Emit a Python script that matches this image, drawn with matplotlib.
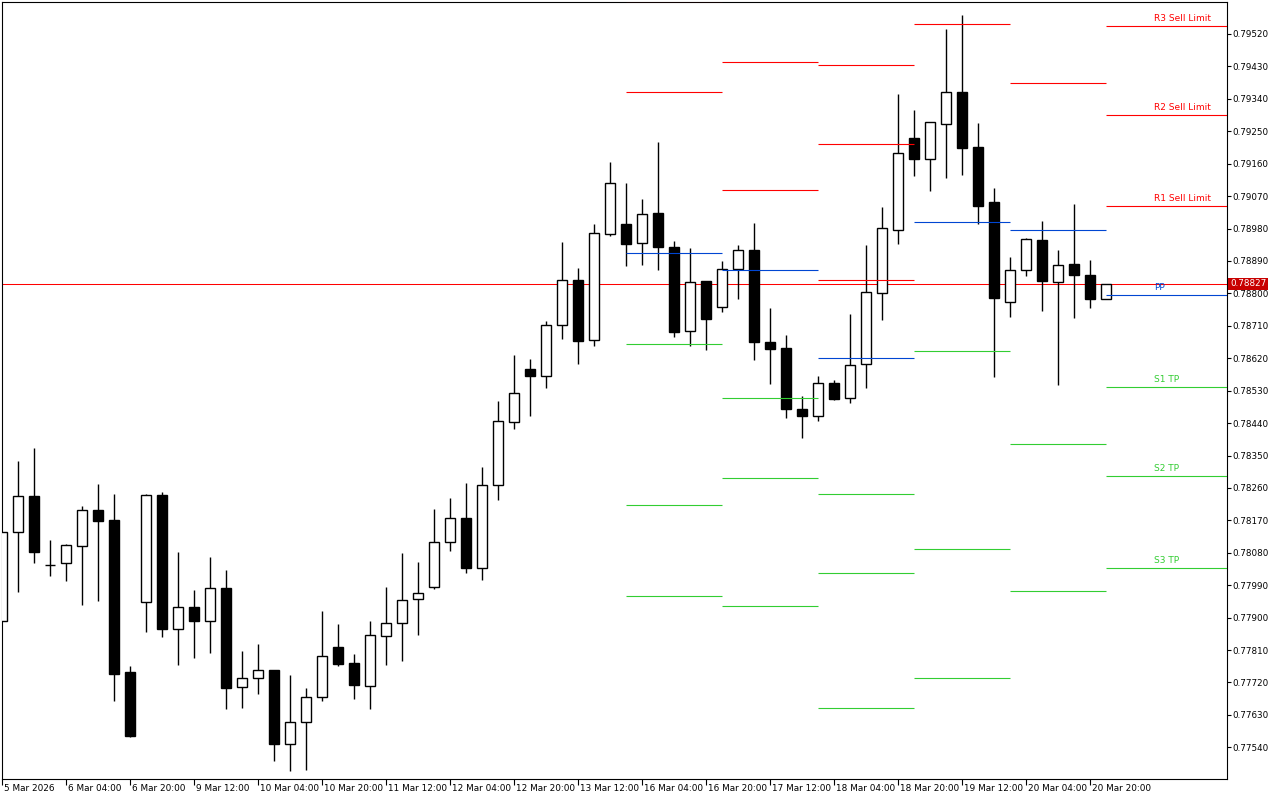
import matplotlib
matplotlib.use("Agg")
import matplotlib.pyplot as plt
import matplotlib.transforms as mtransforms

# ---------------- data (4H candles) ----------------
opens = [0.77890, 0.78137, 0.78238, 0.78047, 0.78051, 0.78098, 0.78198, 0.78171, 0.77749, 0.77944,
         0.78240, 0.77869, 0.77929, 0.77891, 0.77981, 0.77708, 0.77732, 0.77754, 0.77548, 0.77609,
         0.77679, 0.77818, 0.77773, 0.77711, 0.77850, 0.77884, 0.77951, 0.77984, 0.78109, 0.78176,
         0.78039, 0.78267, 0.78442, 0.78589, 0.78570, 0.78711, 0.78836, 0.78670, 0.78964, 0.78992,
         0.78939, 0.79022, 0.78928, 0.78695, 0.78834, 0.78761, 0.78867, 0.78920, 0.78664, 0.78648,
         0.78478, 0.78459, 0.78550, 0.78509, 0.78603, 0.78800, 0.78975, 0.79231, 0.79174, 0.79269,
         0.79359, 0.79206, 0.79054, 0.78775, 0.78864, 0.78948, 0.78832, 0.78882, 0.78851, 0.78784]
highs = [0.78137, 0.78335, 0.78372, 0.78115, 0.78104, 0.78209, 0.78271, 0.78243, 0.77766, 0.78242,
         0.78248, 0.78081, 0.77976, 0.78068, 0.78032, 0.77807, 0.77826, 0.77755, 0.77740, 0.77705,
         0.77918, 0.77882, 0.77799, 0.77891, 0.77985, 0.78079, 0.78054, 0.78201, 0.78231, 0.78274,
         0.78318, 0.78501, 0.78629, 0.78618, 0.78723, 0.78943, 0.78870, 0.78993, 0.79164, 0.79106,
         0.79062, 0.79220, 0.78945, 0.78925, 0.78834, 0.78889, 0.78933, 0.78995, 0.78759, 0.78685,
         0.78515, 0.78571, 0.78560, 0.78743, 0.78934, 0.79040, 0.79353, 0.79309, 0.79275, 0.79534,
         0.79573, 0.79273, 0.79092, 0.78901, 0.78954, 0.79001, 0.78920, 0.79048, 0.78893, 0.78827]
lows = [0.77890, 0.77971, 0.78052, 0.78016, 0.78002, 0.77936, 0.77947, 0.77669, 0.77568, 0.77859,
        0.77847, 0.77769, 0.77788, 0.77803, 0.77647, 0.77650, 0.77689, 0.77503, 0.77475, 0.77478,
        0.77669, 0.77766, 0.77675, 0.77647, 0.77769, 0.77780, 0.77853, 0.77979, 0.78086, 0.78025,
        0.78005, 0.78227, 0.78424, 0.78461, 0.78538, 0.78674, 0.78605, 0.78655, 0.78960, 0.78877,
        0.78880, 0.78866, 0.78680, 0.78655, 0.78644, 0.78749, 0.78785, 0.78616, 0.78549, 0.78455,
        0.78399, 0.78447, 0.78504, 0.78497, 0.78538, 0.78727, 0.78938, 0.79127, 0.79085, 0.79121,
        0.79129, 0.78993, 0.78569, 0.78735, 0.78849, 0.78752, 0.78547, 0.78733, 0.78760, 0.78784]
closes = [0.78137, 0.78238, 0.78083, 0.78045, 0.78101, 0.78198, 0.78167, 0.77744, 0.77572, 0.78240,
          0.77869, 0.77929, 0.77891, 0.77981, 0.77705, 0.77732, 0.77754, 0.77548, 0.77609, 0.77679,
          0.77793, 0.77772, 0.77714, 0.77851, 0.77884, 0.77948, 0.77968, 0.78109, 0.78176, 0.78039,
          0.78267, 0.78445, 0.78523, 0.78572, 0.78711, 0.78836, 0.78669, 0.78967, 0.79106, 0.78938,
          0.79020, 0.78928, 0.78692, 0.78831, 0.78730, 0.78867, 0.78920, 0.78666, 0.78646, 0.78480,
          0.78459, 0.78550, 0.78508, 0.78600, 0.78803, 0.78981, 0.79189, 0.79174, 0.79275, 0.79358,
          0.79204, 0.79043, 0.78788, 0.78864, 0.78950, 0.78835, 0.78878, 0.78851, 0.78785, 0.78827]

current_price = 0.78827

# daily pivot levels (segment start = candle index of day's first bar)
pivot_start = [39, 45, 51, 57, 63, 69]
R3 = [0.80058, 0.79664, 0.79434, 0.80456, 0.80386, 0.79542]
R2 = [0.79611, 0.79442, 0.79215, 0.79906, 0.79978, 0.79294]
R1 = [0.79359, 0.79087, 0.78837, 0.79548, 0.79384, 0.79042]
PP = [0.78912, 0.78865, 0.78621, 0.78998, 0.78976, 0.78795]
S1 = [0.78660, 0.78510, 0.78243, 0.78640, 0.78382, 0.78539]
S2 = [0.78213, 0.78288, 0.78024, 0.78091, 0.77974, 0.78292]
S3 = [0.77960, 0.77932, 0.77649, 0.77732, 0.77380, 0.78037]

level_labels = ["R3 Sell Limit", "R2 Sell Limit", "R1 Sell Limit", "PP", "S1 TP", "S2 TP", "S3 TP"]

x_tick_idx = [0, 4, 8, 12, 16, 20, 24, 28, 32, 36, 40, 44, 48, 52, 56, 60, 64, 68]
x_tick_labels = ["5 Mar 2026", "6 Mar 04:00", "6 Mar 20:00", "9 Mar 12:00", "10 Mar 04:00",
                 "10 Mar 20:00", "11 Mar 12:00", "12 Mar 04:00", "12 Mar 20:00", "13 Mar 12:00",
                 "16 Mar 04:00", "16 Mar 20:00", "17 Mar 12:00", "18 Mar 04:00", "18 Mar 20:00",
                 "19 Mar 12:00", "20 Mar 04:00", "20 Mar 20:00"]
y_ticks = [0.77540, 0.77630, 0.77720, 0.77810, 0.77900, 0.77990, 0.78080, 0.78170, 0.78260,
           0.78350, 0.78440, 0.78530, 0.78620, 0.78710, 0.78800, 0.78890, 0.78980, 0.79070,
           0.79160, 0.79250, 0.79340, 0.79430, 0.79520]

# ---------------- styles ----------------
RED = "#FF0000"
BLUE = "#0046D2"
GREEN = "#32CD32"
level_colors = [RED, RED, RED, BLUE, GREEN, GREEN, GREEN]

fig = plt.figure(figsize=(12.8, 8.0), dpi=100)
ax = fig.add_axes([2 / 1280, 21 / 800, 1225 / 1280, 777 / 800])
ax.set_facecolor("white")

XMAX = 76.5625
ax.set_xlim(0, XMAX)
ax.set_ylim(0.774521, 0.796088)

# current price line (behind candles)
ax.axhline(current_price, color=RED, lw=0.75, zorder=1)

# candles
body_w = 0.625
for i, (o, h, l, c) in enumerate(zip(opens, highs, lows, closes)):
    ax.vlines(i, l, h, color="black", lw=1.0, zorder=2)
    bull = c >= o
    bottom = min(o, c)
    height = max(abs(c - o), 0.00002)
    ax.bar(i, height, bottom=bottom, width=body_w,
           facecolor="white" if bull else "black",
           edgecolor="black", linewidth=1.0, zorder=3)

# pivot level segments
levels = [R3, R2, R1, PP, S1, S2, S3]
for k, start in enumerate(pivot_start):
    end = pivot_start[k + 1] if k + 1 < len(pivot_start) else XMAX
    for lv, col in zip(levels, level_colors):
        ax.hlines(lv[k], start, end, color=col, lw=0.8, zorder=4)

# labels for the current day's levels
for lv, col, lab in zip(levels, level_colors, level_labels):
    ax.annotate(lab, xy=(72.0, lv[-1]), xytext=(0, 2.5), textcoords="offset points",
                color=col, fontsize=6.5, ha="left", va="bottom", zorder=5)

# axes styling
for sp in ax.spines.values():
    sp.set_linewidth(0.8)
    sp.set_color("black")

ax.yaxis.tick_right()
ax.set_yticks(y_ticks)
ax.set_yticklabels([f"{v:.5f}" for v in y_ticks])
ax.tick_params(axis="y", direction="out", length=3, width=0.8, pad=0.8, labelsize=6.3, colors="black")

ax.set_xticks(x_tick_idx)
ax.set_xticklabels(x_tick_labels, ha="left")
ax.tick_params(axis="x", direction="out", length=4, width=0.8, pad=-0.3, labelsize=6.4, colors="black")
offset = mtransforms.ScaledTranslation(2 / 100, 0, fig.dpi_scale_trans)
for lab in ax.get_xticklabels():
    lab.set_transform(lab.get_transform() + offset)

# current price tag
trans = mtransforms.blended_transform_factory(ax.transAxes, ax.transData)
ax.text(1.0025, current_price, f"{current_price:.5f}", transform=trans, ha="left", va="center",
        color="white", fontsize=6.3, zorder=6, clip_on=False,
        bbox=dict(boxstyle="square,pad=0.18", facecolor="#C80000", edgecolor="none"))

fig.savefig("out.png", dpi=100, facecolor="white")
